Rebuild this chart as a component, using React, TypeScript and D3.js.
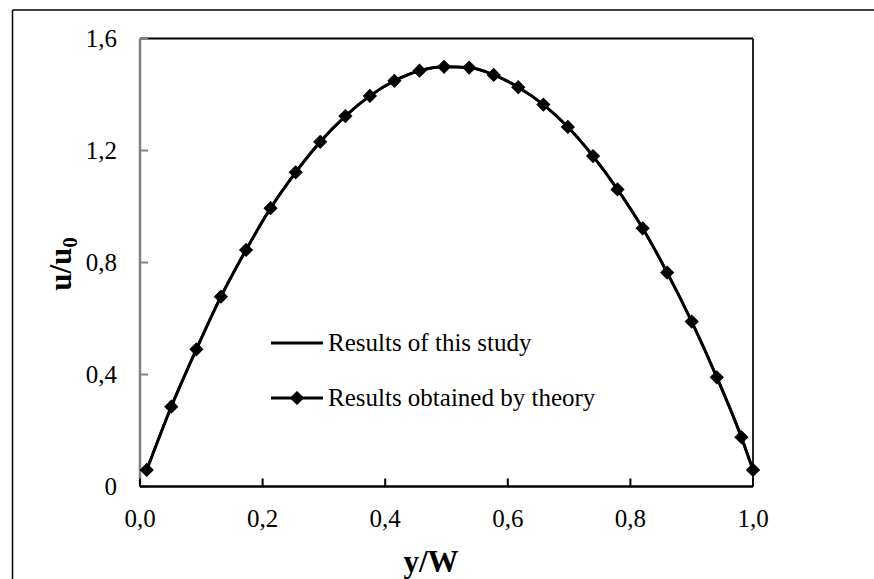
import React from "react";
import * as d3 from "d3";

const xValues = [
  0.011, 0.051, 0.092, 0.132, 0.173, 0.213, 0.254, 0.294, 0.335, 0.375, 0.415,
  0.456, 0.496, 0.537, 0.577, 0.617, 0.658, 0.698, 0.739, 0.779, 0.82, 0.86,
  0.9, 0.941, 0.981, 1.0,
];
const theoryU = [
  0.059, 0.285, 0.49, 0.678, 0.845, 0.994, 1.122, 1.231, 1.323, 1.395, 1.449,
  1.485, 1.499, 1.496, 1.47, 1.426, 1.364, 1.284, 1.18, 1.061, 0.922, 0.764,
  0.589, 0.39, 0.176, 0.059,
];
const studyU = [
  0.059, 0.285, 0.49, 0.678, 0.845, 0.994, 1.122, 1.231, 1.323, 1.395, 1.449,
  1.485, 1.499, 1.496, 1.47, 1.426, 1.364, 1.284, 1.18, 1.061, 0.922, 0.764,
  0.589, 0.39, 0.176, 0.059,
];
const xTicks = [0, 0.2, 0.4, 0.6, 0.8, 1.0];
const yTicks = [0, 0.4, 0.8, 1.2, 1.6];
const legendLabels = ["Results of this study", "Results obtained by theory"];

const FONT = '"Liberation Serif", "Times New Roman", serif';

export default function App() {
  const W = 874;
  const H = 579;
  const left = 140;
  const right = 753;
  const top = 38.5;
  const bottom = 486.5;

  const x = d3.scaleLinear().domain([0, 1]).range([left, right]);
  const y = d3.scaleLinear().domain([0, 1.6]).range([bottom, top]);

  const studyData = xValues.map((xv, i) => [xv, studyU[i]] as [number, number]);
  const theoryData = xValues.map((xv, i) => [xv, theoryU[i]] as [number, number]);

  const line = d3
    .line<[number, number]>()
    .x((d) => x(d[0]))
    .y((d) => y(d[1]))
    .curve(d3.curveMonotoneX);

  const diamond = d3.symbol().type(d3.symbolSquare).size(82)() as string;
  const fmt = (v: number) => v.toFixed(1).replace(".", ",");
  const fmtY = (v: number) => (v === 0 ? "0" : v.toFixed(1).replace(".", ","));

  const legX1 = 271;
  const legX2 = 323;
  const legRows = [343, 398];

  return (
    <div
      style={{
        position: "absolute",
        left: 0,
        top: 0,
        width: W,
        height: H,
        overflow: "hidden",
        background: "#fff",
      }}
    >
      <svg width={W} height={H} style={{ display: "block", overflow: "hidden" }}>
        <rect x={0} y={0} width={W} height={H} fill="#fff" />
        {/* outer chart frame (only left and top visible) */}
        <line x1={12.5} y1={10} x2={W} y2={10} stroke="#000" strokeWidth={1.5} />
        <line x1={12.5} y1={10} x2={12.5} y2={H} stroke="#000" strokeWidth={1.5} />

        {/* plot frame: top and right */}
        <line x1={left} y1={top} x2={right} y2={top} stroke="#000" strokeWidth={2} />
        <line x1={right} y1={top} x2={right} y2={bottom} stroke="#222" strokeWidth={2} />

        {/* y axis (gray) */}
        <line x1={left} y1={top} x2={left} y2={bottom} stroke="#808080" strokeWidth={2.5} />
        {yTicks.map((t) => (
          <g key={"yt" + t}>
            <line x1={left} x2={left + 8} y1={y(t)} y2={y(t)} stroke="#808080" strokeWidth={2} />
            <text
              x={117}
              y={y(t) + 8.5}
              textAnchor="end"
              fontFamily={FONT}
              fontSize={25}
              fill="#000"
            >
              {fmtY(t)}
            </text>
          </g>
        ))}

        {/* x axis */}
        <line x1={left} y1={bottom} x2={right} y2={bottom} stroke="#000" strokeWidth={2.5} />
        {xTicks.map((t) => (
          <g key={"xt" + t}>
            <line x1={x(t)} x2={x(t)} y1={bottom} y2={bottom - 8} stroke="#000" strokeWidth={2} />
            <text
              x={x(t)}
              y={527}
              textAnchor="middle"
              fontFamily={FONT}
              fontSize={25}
              fill="#000"
            >
              {fmt(t)}
            </text>
          </g>
        ))}

        {/* axis titles */}
        <text
          x={431}
          y={572}
          textAnchor="middle"
          fontFamily={FONT}
          fontSize={31}
          fontWeight="bold"
          fill="#000"
        >
          y/W
        </text>
        <text
          transform={`translate(71,264) rotate(-90)`}
          textAnchor="middle"
          fontFamily={FONT}
          fontSize={31}
          fontWeight="bold"
          fill="#000"
        >
          u/u<tspan fontSize={21} dy={6}>0</tspan>
        </text>

        {/* series: study line */}
        <path d={line(studyData) as string} fill="none" stroke="#000" strokeWidth={3} />
        {/* series: theory line with diamond markers */}
        <path d={line(theoryData) as string} fill="none" stroke="#000" strokeWidth={2.5} />
        {theoryData.map((d, i) => (
          <path
            key={"m" + i}
            d={diamond}
            transform={`translate(${x(d[0])},${y(d[1])}) rotate(45)`}
            fill="#000"
            stroke="#000"
            strokeWidth={1}
          />
        ))}

        {/* legend */}
        {legendLabels.map((lab, i) => (
          <g key={"lg" + i}>
            <line x1={legX1} x2={legX2} y1={legRows[i]} y2={legRows[i]} stroke="#000" strokeWidth={3} />
            {i === 1 && (
              <path
                d={diamond}
                transform={`translate(${(legX1 + legX2) / 2},${legRows[i]}) rotate(45)`}
                fill="#000"
                stroke="#000"
                strokeWidth={1}
              />
            )}
            <text x={328} y={legRows[i] + 8} fontFamily={FONT} fontSize={25} fill="#000">
              {lab}
            </text>
          </g>
        ))}
      </svg>
    </div>
  );
}
